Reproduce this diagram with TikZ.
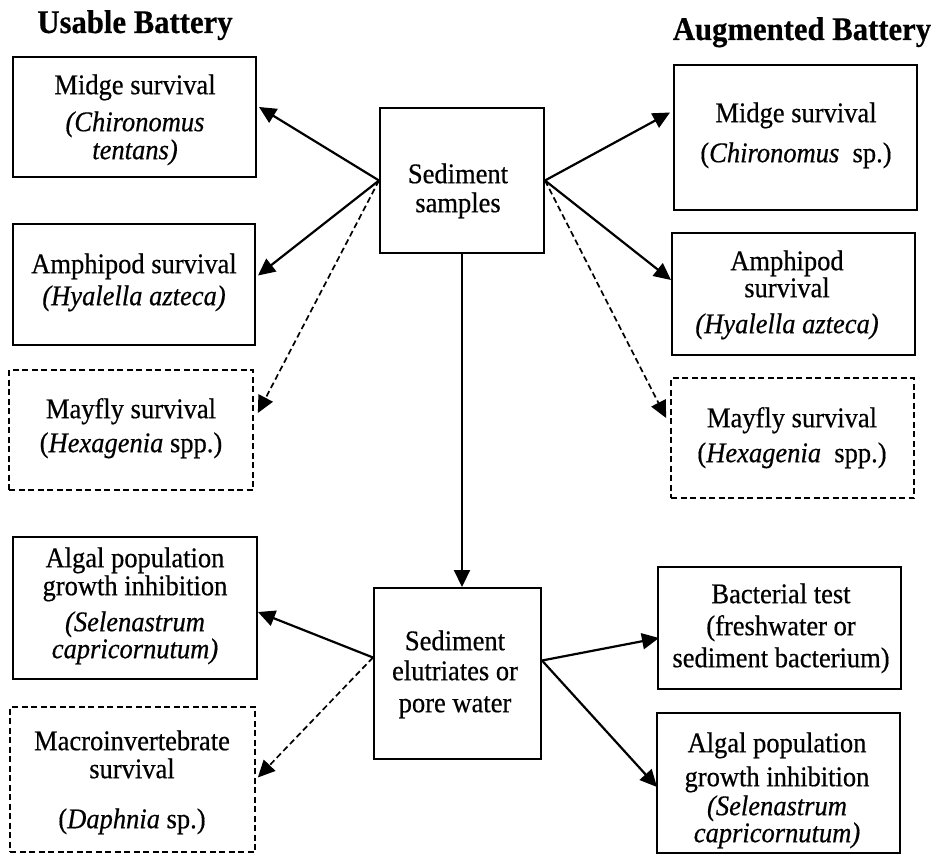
\documentclass[tikz,border=0pt]{standalone}
\usepackage{fontspec}
\setmainfont{Liberation Serif}[FakeStretch=0.93, FakeBold=0.5]
\usetikzlibrary{arrows.meta,calc}
\tikzset{
  box/.style={draw, line width=2pt, inner sep=0pt},
  dbox/.style={box, line width=1.7pt, dash pattern=on 6pt off 3.5pt},
  txt/.style={align=center, inner sep=0pt, anchor=north, font=\fontsize{28.5}{30}\selectfont},
  ttl/.style={inner sep=0pt, anchor=base, font=\fontsize{33}{36}\selectfont\bfseries},
  conn/.style={line width=2.2pt, -{Triangle[length=17pt,width=16pt]}},
  dconn/.style={conn, line width=1.7pt, dash pattern=on 6pt off 3.5pt},
}
\begin{document}
\begin{tikzpicture}[x=1pt,y=-1pt]
\useasboundingbox (0,0) rectangle (940,861);

% titles
\node[ttl] (tu) at (135,33) {Usable Battery};
\node[ttl] (ta) at (802,40) {Augmented Battery};

% boxes
\node[box,  minimum width=243pt, minimum height=120pt] (l1) at (134.5,117) {};
\node[box,  minimum width=242pt, minimum height=121pt] (l2) at (134,284.5) {};
\node[dbox, minimum width=244pt, minimum height=120pt] (l3) at (131,430) {};
\node[box,  minimum width=244pt, minimum height=142pt] (l4) at (135,608) {};
\node[dbox, minimum width=245pt, minimum height=145pt] (l5) at (132.5,779.5) {};
\node[box,  minimum width=164pt, minimum height=145pt] (c1) at (462,180.5) {};
\node[box,  minimum width=167pt, minimum height=171pt] (c2) at (457.5,673.5) {};
\node[box,  minimum width=243pt, minimum height=145pt] (r1) at (795.5,137.5) {};
\node[box,  minimum width=243pt, minimum height=122pt] (r2) at (793.5,294) {};
\node[dbox, minimum width=243pt, minimum height=120pt] (r3) at (792.5,438) {};
\node[box,  minimum width=243pt, minimum height=122pt] (r4) at (779.5,628) {};
\node[box,  minimum width=243pt, minimum height=140pt] (r5) at (778.5,783) {};

% texts
\node[txt] (tl1) at (135,73) {\strut Midge survival\\[7pt]\textit{(Chironomus}\\[-2pt]\textit{tentans)}};
\node[txt] (tl2) at (134,252) {\strut Amphipod survival\\[2pt]\textit{(Hyalella azteca)}};
\node[txt] (tl3) at (131,397) {\strut Mayfly survival\\[4pt](\textit{Hexagenia} spp.)};
\node[txt] (tl4) at (135,546) {\strut Algal population\\[-2pt]growth inhibition\\[6pt]\textit{(Selenastrum}\\[-3pt]\textit{capricornutum)}};
\node[txt] (tl5) at (132,729) {\strut Macroinvertebrate\\[-2pt]survival\\[20pt](\textit{Daphnia} sp.)};
\node[txt] (tc1) at (458,162) {\strut Sediment\\[-1pt]samples};
\node[txt] (tc2) at (455,629) {\strut Sediment\\[0pt]elutriates or\\[2pt]pore water};
\node[txt] (tr1) at (796,101) {\strut Midge survival\\[10pt](\textit{Chironomus}\ \ sp.)};
\node[txt] (tr2) at (787,249) {\strut Amphipod\\[-3pt]survival\\[6pt]\textit{(Hyalella azteca)}};
\node[txt] (tr3) at (792,406) {\strut Mayfly survival\\[5pt](\textit{Hexagenia}\ \ spp.)};
\node[txt] (tr4) at (781,582) {\strut Bacterial test\\[2pt](freshwater or\\[2pt]sediment bacterium)};
\node[txt] (tr5) at (777,731) {\strut Algal population\\[4pt]growth inhibition\\[-1pt]\textit{(Selenastrum}\\[-3pt]\textit{capricornutum)}};

% connectors from sediment samples
\draw[conn]  (c1.west) -- ($(l1.east)+(2,-10)$);
\draw[conn]  (c1.west) -- ($(l2.east)+(2,-9)$);
\draw[dconn] (c1.west) -- ($(l3.east)+(4,-17)$);
\draw[conn]  (c1.east) -- ($(r1.west)+(-3,-25)$);
\draw[conn]  (c1.east) -- ($(r2.west)+(0,-14)$);
\draw[dconn] (c1.east) -- ($(r3.west)+(-4,-20)$);
\draw[conn]  (c1.south) -- (c1.south |- c2.north);

% connectors from elutriates
\draw[conn]  ($(c2.west)+(0,-16)$) -- ($(l4.east)+(0,4)$);
\draw[dconn] ($(c2.west)+(0,-16)$) -- ($(l5.east)+(2,-2)$);
\draw[conn]  ($(c2.east)+(0,-13)$) -- ($(r4.west)+(2,10)$);
\draw[conn]  ($(c2.east)+(0,-13)$) -- ($(r5.west)+(1,4)$);
\end{tikzpicture}
\end{document}
